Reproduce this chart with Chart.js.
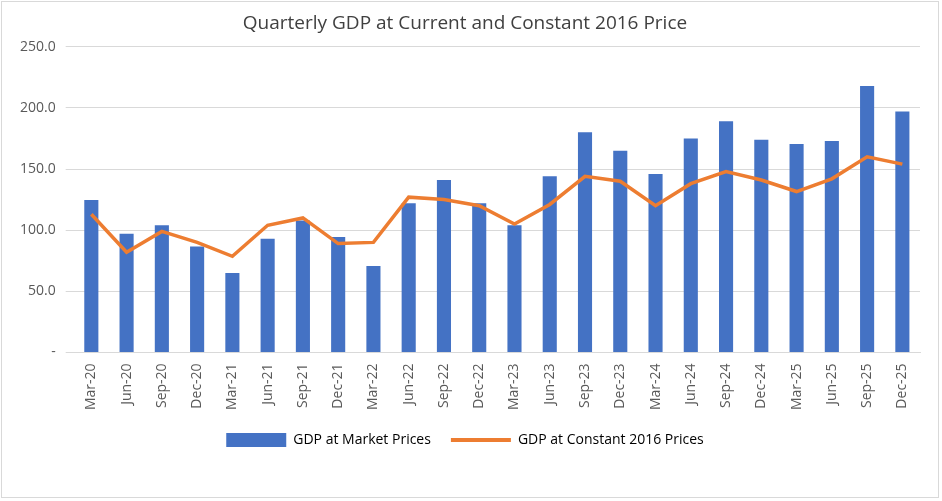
<!DOCTYPE html>
<html>
<head>
<meta charset="utf-8">
<script src="https://cdn.jsdelivr.net/npm/chart.js@4"></script>
<style>
  body { margin: 0; background: #fff; }
  #wrap { position: absolute; left: 1px; top: 1px; width: 938px; height: 497px; border: 1px solid #d9d9d9; box-sizing: border-box; }
</style>
</head>
<body>
<div id="wrap"><canvas id="c"></canvas></div>
<script>
const quarters = ['Mar-20','Jun-20','Sep-20','Dec-20','Mar-21','Jun-21','Sep-21','Dec-21','Mar-22','Jun-22','Sep-22','Dec-22',
  'Mar-23','Jun-23','Sep-23','Dec-23','Mar-24','Jun-24','Sep-24','Dec-24','Mar-25','Jun-25','Sep-25','Dec-25'];
const marketPrices = [124.6, 97, 104, 86.6, 65, 93, 108, 94.5, 70.7, 122, 141, 122,
  104, 144, 180, 165, 146, 175, 189, 174, 170.5, 173, 218, 197];
const constantPrices = [113, 82, 99, 90, 78.6, 104, 110, 89, 90, 127, 125, 120,
  105, 121, 144, 140, 120, 138, 148, 141, 131.6, 142, 160, 154];

const font = "'Open Sans', 'Liberation Sans', sans-serif";
Chart.defaults.font.family = font;
Chart.defaults.color = '#595959';

new Chart(document.getElementById('c'), {
  type: 'bar',
  data: {
    labels: quarters,
    datasets: [
      { label: 'GDP at Market Prices', data: marketPrices, backgroundColor: '#4472c4',
        barPercentage: 0.4, categoryPercentage: 1, order: 1 },
      { type: 'line', label: 'GDP at Constant 2016 Prices', data: constantPrices, borderColor: '#ed7d31',
        backgroundColor: '#ed7d31', borderWidth: 3.5, pointRadius: 0, tension: 0, order: 0 }
    ]
  },
  options: {
    responsive: true,
    maintainAspectRatio: false,
    animation: false,
    layout: { padding: { left: 8, right: 18, top: 2, bottom: 40 } },
    plugins: {
      title: { display: true, text: 'Quarterly GDP at Current and Constant 2016 Price', color: '#404040',
        font: { size: 19, weight: 'normal' }, padding: { top: 8, bottom: 12 } },
      legend: {
        position: 'bottom',
        labels: {
          font: { size: 14 }, color: '#595959', padding: 20,
          usePointStyle: true, pointStyleWidth: 60,
          generateLabels: chart => chart.data.datasets.map((ds, i) => ({
            text: ds.label, fillStyle: ds.backgroundColor, strokeStyle: ds.backgroundColor,
            lineWidth: ds.type === 'line' ? 4 : 0, datasetIndex: i,
            pointStyle: ds.type === 'line' ? 'line' : 'rect'
          }))
        }
      },
      tooltip: { enabled: false }
    },
    scales: {
      x: {
        grid: { display: false },
        border: { color: '#d9d9d9' },
        ticks: { maxRotation: 90, minRotation: 90, font: { size: 14 }, color: '#595959', autoSkip: false }
      },
      y: {
        min: 0, max: 250,
        ticks: { stepSize: 50, font: { size: 14 }, color: '#595959', padding: 10,
          callback: v => v === 0 ? '-' : v.toFixed(1) },
        grid: { color: '#d9d9d9' },
        border: { display: false }
      }
    }
  }
});
</script>
</body>
</html>
